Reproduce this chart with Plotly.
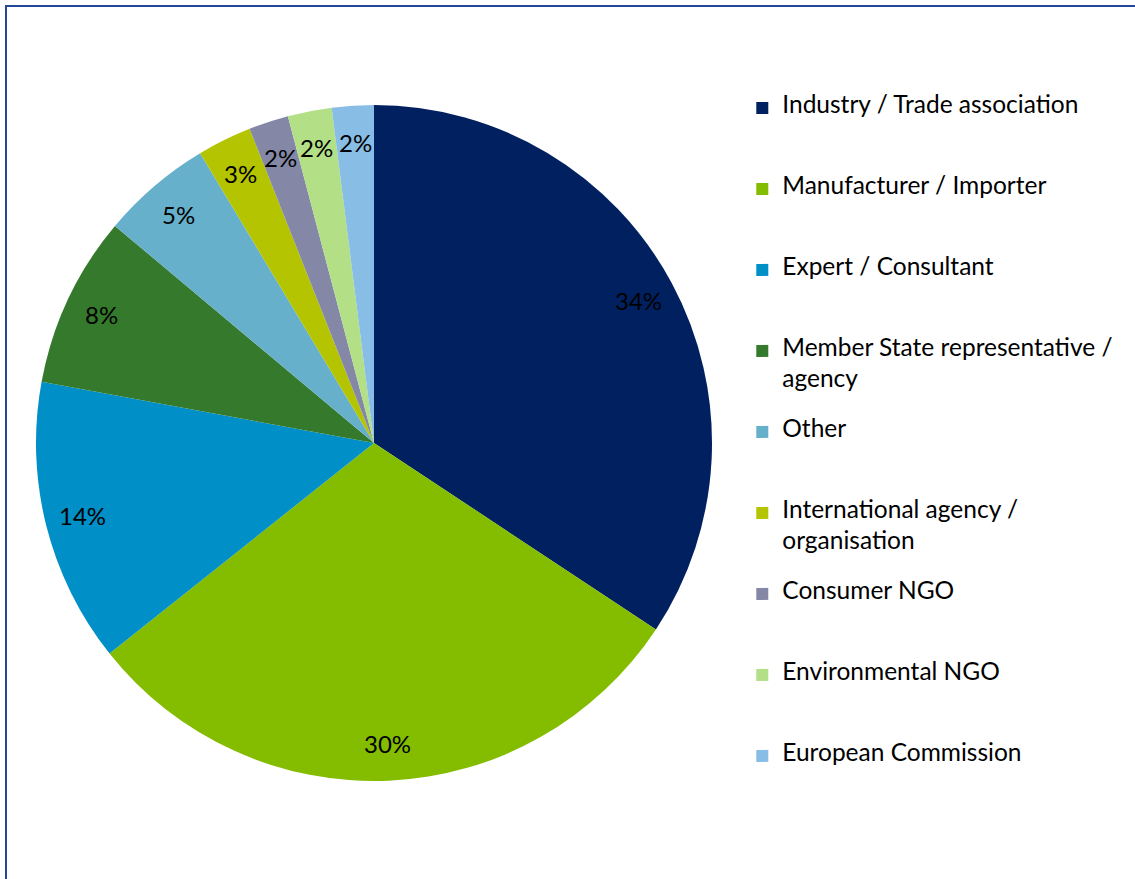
import numpy as np
import plotly.graph_objects as go

# ---- data ----
categories = [
    "Industry / Trade association",
    "Manufacturer / Importer",
    "Expert / Consultant",
    "Member State representative /|agency",
    "Other",
    "International agency /|organisation",
    "Consumer NGO",
    "Environmental NGO",
    "European Commission",
]
shares = [34.3, 30.0, 13.6, 8.2, 5.3, 2.6, 1.9, 2.1, 2.0]

# ---- styles ----
slice_colors = ["#002060", "#84BC00", "#008FC6", "#357A2C", "#66B0CC",
                "#B5C400", "#8488A6", "#B3DF87", "#88BDE6"]

W, H = 1135, 879
CX, CY, R = 374, 443, 338          # pie centre / radius in pixels
LABEL_R = 0.89                      # label distance as fraction of radius
FONT = "Lato"
LEG_BASE = 12                       # base legend font (controls row spacing)
LEG_VIS = 24.5                      # visible legend font size
SLOTS = 5                           # base lines per legend entry


def legend_label(name):
    lines = name.split("|")
    out = []
    for i, ln in enumerate(lines):
        if i > 0:
            out.append("\u00a0")   # spacer so wrapped lines get ~31px spacing
        out.append(f'<span style="font-size:{LEG_VIS}px">{ln}</span>')
    while len(out) < SLOTS:
        out.append("\u00a0")
    return "<br>".join(out)


legend_names = [legend_label(c) for c in categories]

fig = go.Figure()
fig.add_trace(go.Pie(
    labels=legend_names,
    values=shares,
    sort=False,
    direction="clockwise",
    rotation=0,
    textinfo="none",
    hoverinfo="skip",
    marker=dict(colors=slice_colors, line=dict(width=0)),
    domain=dict(x=[(CX - R) / W, (CX + R) / W],
                y=[1 - (CY + R) / H, 1 - (CY - R) / H]),
))

# percentage labels, placed from the data (mid-angle of each slice)
vals = np.array(shares, dtype=float)
pct = vals / vals.sum()
mid = (np.cumsum(pct) - pct / 2) * 2 * np.pi
annotations = []
for p, a in zip(pct, mid):
    px = CX + LABEL_R * R * np.sin(a)
    py = CY - LABEL_R * R * np.cos(a)
    annotations.append(dict(
        x=px / W, y=1 - py / H, xref="paper", yref="paper",
        text=f"{p * 100:.0f}%", showarrow=False,
        font=dict(family=FONT, size=24, color="#000000"),
        xanchor="center", yanchor="middle",
    ))

fig.update_layout(
    width=W, height=H,
    margin=dict(l=0, r=0, t=0, b=0),
    paper_bgcolor="white",
    plot_bgcolor="white",
    font=dict(family=FONT, color="#000000"),
    showlegend=True,
    legend=dict(
        x=0.654, y=0.8935, xanchor="left", yanchor="top",
        font=dict(family=FONT, size=LEG_BASE, color="#000000"),
        valign="top",
        bgcolor="rgba(0,0,0,0)",
        itemclick=False, itemdoubleclick=False,
    ),
    annotations=annotations,
    shapes=[dict(
        type="rect", xref="paper", yref="paper",
        x0=6 / W, x1=1.02, y0=-0.02, y1=1 - 6 / H,
        line=dict(color="#23479B", width=2),
        fillcolor="rgba(0,0,0,0)", layer="above",
    )],
)

fig.write_html(
    "out.html",
    config={"displayModeBar": False},
    post_script="document.body.style.margin='0';document.body.style.overflow='hidden';",
)
